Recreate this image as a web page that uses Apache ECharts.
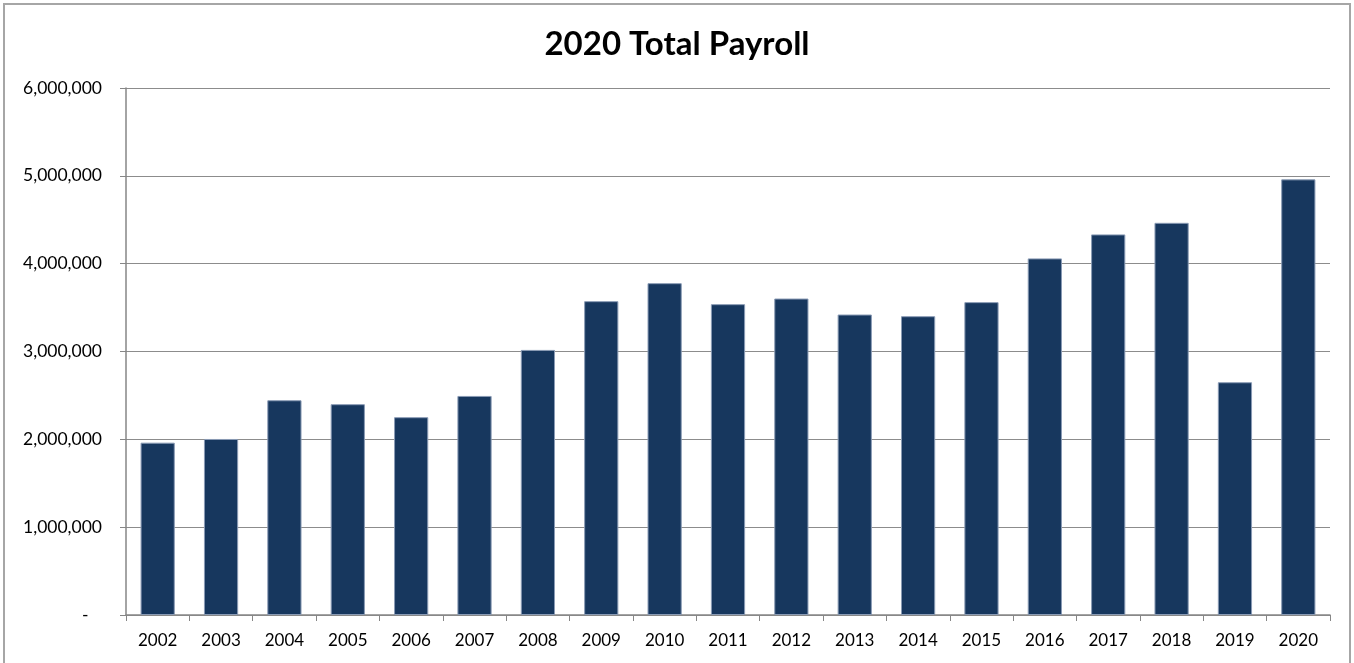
<!DOCTYPE html>
<html>
<head>
<meta charset="utf-8">
<script src="https://cdn.jsdelivr.net/npm/echarts@6/dist/echarts.min.js"></script>
<style>
  html, body { margin: 0; padding: 0; background: #fff; }
  #frame { position: absolute; left: 3px; top: 3px; width: 1348px; height: 700px;
           border: 2px solid #a6a6a6; box-sizing: border-box; }
  #main { position: absolute; left: 0; top: 0; width: 1354px; height: 663px; }
</style>
</head>
<body>
<div id="frame"></div>
<div id="main"></div>
<script>
var years = ['2002', '2003', '2004', '2005', '2006', '2007', '2008', '2009', '2010', '2011',
  '2012', '2013', '2014', '2015', '2016', '2017', '2018', '2019', '2020'];
var payroll = [1962000, 2004000, 2445000, 2400000, 2252000, 2494000, 3018000, 3573000, 3778000, 3539000,
  3603000, 3421000, 3402000, 3562000, 4060000, 4333000, 4465000, 2650000, 4960000];
var yTicks = [0, 1000000, 2000000, 3000000, 4000000, 5000000, 6000000];

var fontFam = 'Lato, "Open Sans", sans-serif';
var myChart = echarts.init(document.getElementById('main'));
var option = {
  animation: false,
  title: {
    text: '2020 Total Payroll',
    left: 'center',
    top: 23,
    textStyle: { fontFamily: fontFam, fontSize: 33, fontWeight: 'bold', color: '#000' }
  },
  grid: { left: 126, right: 24, top: 88, bottom: 48 },
  xAxis: {
    type: 'category',
    data: years,
    axisLine: { lineStyle: { color: '#868686', width: 1.5 } },
    axisTick: { show: true, length: 6, lineStyle: { color: '#868686' } },
    axisLabel: { fontFamily: fontFam, fontSize: 17, color: '#000', margin: 17 }
  },
  yAxis: {
    type: 'value',
    min: yTicks[0],
    max: yTicks[yTicks.length - 1],
    interval: 1000000,
    axisLine: { show: true, lineStyle: { color: '#868686', width: 1.5 } },
    axisTick: { show: true, length: 6, lineStyle: { color: '#868686' } },
    splitLine: { lineStyle: { color: '#8c8c8c', width: 1 } },
    axisLabel: {
      fontFamily: fontFam, fontSize: 17.5, color: '#000', margin: 24,
      formatter: function (v) { return v === 0 ? '-   ' : v.toLocaleString('en-US'); }
    }
  },
  series: [{
    type: 'bar',
    data: payroll,
    barWidth: '54%',
    itemStyle: { color: '#17375e', borderColor: '#8a9bb5', borderWidth: 1 }
  }]
};
myChart.setOption(option);
</script>
</body>
</html>
